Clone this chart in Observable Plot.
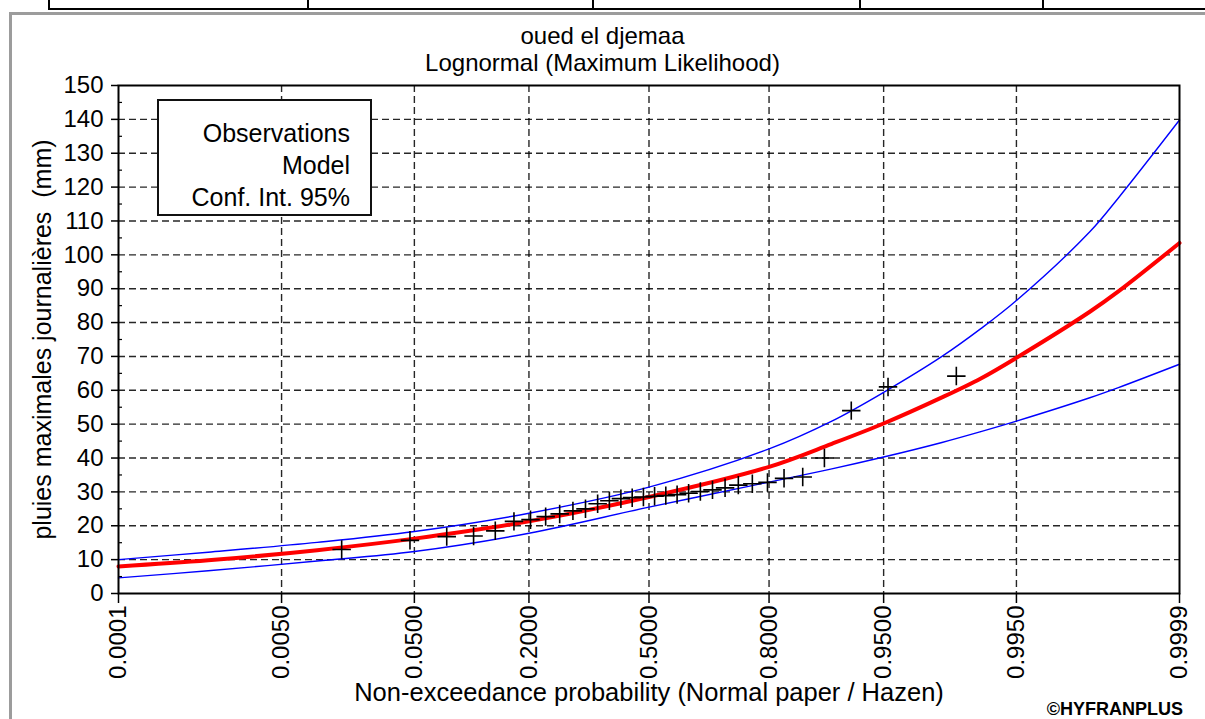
<!DOCTYPE html>
<html>
<head>
<meta charset="utf-8">
<script src="https://cdn.jsdelivr.net/npm/d3@7"></script>
<script src="https://cdn.jsdelivr.net/npm/@observablehq/plot@0.6"></script>
<style>
  html, body { margin: 0; padding: 0; background: #fff; }
  #page { position: relative; width: 1205px; height: 719px; overflow: hidden; font-family: "Liberation Sans", Arial, sans-serif; color: #000; }
  #chart { position: absolute; left: 0; top: 0; }
  .deco { position: absolute; z-index: 3; }
  #title { position: absolute; z-index: 3; left: 0; top: 22px; width: 1205px; text-align: center; font-size: 24px; line-height: 27px; }
  #legend { position: absolute; z-index: 3; left: 157px; top: 99px; width: 215px; height: 117px; box-sizing: border-box; border: 2px solid #111; background: #fff; text-align: right; padding: 16px 20px 0 0; font-size: 25px; line-height: 32px; }
  #copy { position: absolute; z-index: 3; right: 22px; top: 699px; font-size: 18px; line-height: 20px; font-weight: bold; }
</style>
</head>
<body>
<div id="page">
  <div id="chart"></div>
  <div class="deco" style="left:48px;top:0;width:1157px;height:8px;border-left:2px solid #000;border-bottom:2px solid #000;"></div>
  <div class="deco" style="left:307px;top:0;width:2px;height:9px;background:#000;"></div>
  <div class="deco" style="left:592px;top:0;width:2px;height:9px;background:#000;"></div>
  <div class="deco" style="left:859px;top:0;width:2px;height:9px;background:#000;"></div>
  <div class="deco" style="left:1042px;top:0;width:2px;height:9px;background:#000;"></div>
  <div class="deco" style="left:9px;top:12px;width:1196px;height:707px;box-sizing:border-box;border-left:3px solid #9c9c9c;border-top:3px solid #9c9c9c;"></div>
  <div id="title">oued el djemaa<br>Lognormal (Maximum Likelihood)</div>
  <div id="legend">Observations<br>Model<br>Conf. Int. 95%</div>
  <div id="copy">©HYFRANPLUS</div>
</div>
<script>
// ---- data ----
const tickProbs  = [0.0001, 0.005, 0.05, 0.2, 0.5, 0.8, 0.95, 0.995, 0.9999];
const tickLabels = ["0.0001", "0.0050", "0.0500", "0.2000", "0.5000", "0.8000", "0.9500", "0.9950", "0.9999"];
const yTicks = [0, 10, 20, 30, 40, 50, 60, 70, 80, 90, 100, 110, 120, 130, 140, 150];
const yMinor = [5, 15, 25, 35, 45, 55, 65, 75, 85, 95, 105, 115, 125, 135, 145];
const yGrid  = [10, 20, 30, 40, 50, 60, 70, 80, 90, 100, 110, 120, 130, 140];

// model curve and 95% confidence bounds (mm) at these probabilities
const curveProbs = [0.0001, 0.001, 0.01, 0.05, 0.2, 0.5, 0.8, 0.9, 0.95, 0.98, 0.99, 0.995, 0.999, 0.9995, 0.9999];
const modelVals  = [8.0, 9.8, 12.8, 16.2, 21.3, 28.5, 37.4, 44.2, 50.2, 57.9, 63.5, 69.6, 83.2, 89.2, 103.5];
const upperVals  = [10.0, 12.2, 15.1, 18.3, 23.7, 31.4, 42.7, 50.9, 59.4, 70.0, 78.2, 86.5, 106.8, 116.8, 139.8];
const lowerVals  = [4.6, 6.7, 9.6, 12.4, 17.8, 25.5, 32.9, 36.8, 40.3, 44.6, 47.8, 50.9, 57.8, 60.8, 67.7];

// observations (Hazen plotting positions) and values (mm)
const obsProbs = [0.0156, 0.0469, 0.0781, 0.1094, 0.1406, 0.1719, 0.2031, 0.2344, 0.2656, 0.2969, 0.3281, 0.3594,
                  0.3906, 0.4219, 0.4531, 0.4844, 0.5156, 0.5469, 0.5781, 0.6094, 0.6406, 0.6719, 0.7031, 0.7344,
                  0.7656, 0.7969, 0.8281, 0.8594, 0.8906, 0.9219, 0.9531, 0.9844];
const obsVals  = [13.0, 15.7, 16.8, 17.0, 18.5, 21.3, 21.8, 22.7, 23.5, 24.4, 25.0, 26.5,
                  27.4, 28.0, 28.3, 28.5, 28.7, 28.9, 29.2, 29.6, 30.1, 30.6, 31.2, 32.0,
                  32.4, 32.8, 34.0, 34.4, 40.0, 54.0, 61.0, 64.2];

const xLabel = "Non-exceedance probability (Normal paper / Hazen)";
const yLabel = "pluies maximales journalières\u00a0 (mm)";

// inverse standard normal CDF (normal probability paper)
function probit(p) {
  const a = [-3.969683028665376e+01, 2.209460984245205e+02, -2.759285104469687e+02, 1.383577518672690e+02, -3.066479806614716e+01, 2.506628277459239e+00];
  const b = [-5.447609879822406e+01, 1.615858368580409e+02, -1.556989798598866e+02, 6.680131188771972e+01, -1.328068155288572e+01];
  const c = [-7.784894002430293e-03, -3.223964580411365e-01, -2.400758277161838e+00, -2.549732539343734e+00, 4.374664141464968e+00, 2.938163982698783e+00];
  const d = [7.784695709041462e-03, 3.224671290700398e-01, 2.445134137142996e+00, 3.754408661907416e+00];
  const pl = 0.02425;
  if (p < pl) {
    const q = Math.sqrt(-2 * Math.log(p));
    return (((((c[0]*q+c[1])*q+c[2])*q+c[3])*q+c[4])*q+c[5]) / ((((d[0]*q+d[1])*q+d[2])*q+d[3])*q+1);
  }
  if (p > 1 - pl) {
    const q = Math.sqrt(-2 * Math.log(1 - p));
    return -(((((c[0]*q+c[1])*q+c[2])*q+c[3])*q+c[4])*q+c[5]) / ((((d[0]*q+d[1])*q+d[2])*q+d[3])*q+1);
  }
  const q = p - 0.5, r = q * q;
  return (((((a[0]*r+a[1])*r+a[2])*r+a[3])*r+a[4])*r+a[5])*q / (((((b[0]*r+b[1])*r+b[2])*r+b[3])*r+b[4])*r+1);
}

const zTicks = tickProbs.map(probit);
const labelMap = new Map(zTicks.map((z, i) => [z, tickLabels[i]]));
const innerZ = zTicks.slice(1, -1);
const curveRows = curveProbs.map((p, i) => ({z: probit(p), model: modelVals[i], upper: upperVals[i], lower: lowerVals[i]}));
const obsRows = obsProbs.map((p, i) => ({z: probit(p), v: obsVals[i]}));

const gridStyle = {stroke: "#000", strokeOpacity: 0.85, strokeWidth: 1.4, strokeDasharray: "7,4"};

const chart = Plot.plot({
  width: 1205,
  height: 719,
  marginLeft: 118,
  marginRight: 26,
  marginTop: 85,
  marginBottom: 126,
  style: {background: "transparent", fontFamily: "'Liberation Sans', Arial, sans-serif", color: "#000"},
  x: {domain: [zTicks[0], zTicks[zTicks.length - 1]]},
  y: {domain: [0, 150]},
  marks: [
    Plot.gridX(innerZ, gridStyle),
    Plot.gridY(yGrid, gridStyle),
    Plot.line(curveRows, {x: "z", y: "upper", stroke: "#0000ff", strokeWidth: 1.4, curve: "catmull-rom"}),
    Plot.line(curveRows, {x: "z", y: "lower", stroke: "#0000ff", strokeWidth: 1.4, curve: "catmull-rom"}),
    Plot.line(curveRows, {x: "z", y: "model", stroke: "#ff0000", strokeWidth: 4, curve: "catmull-rom"}),
    Plot.dot(obsRows, {x: "z", y: "v", symbol: "plus", r: 6, stroke: "#000", strokeWidth: 1.6}),
    Plot.frame({stroke: "#000", strokeWidth: 2}),
    Plot.axisY(yTicks, {tickSize: 7, tickPadding: 8, fontSize: 24, label: null, strokeWidth: 1.5}),
    Plot.axisY(yMinor, {tickSize: 4, text: null, dx: 4, strokeWidth: 1.2}),
    Plot.axisX(zTicks, {tickSize: 10, tickPadding: 2, tickRotate: -90, fontSize: 24, label: null, strokeWidth: 1.5,
                        tickFormat: (z) => labelMap.get(z)}),
    Plot.text([xLabel], {text: (d) => d, frameAnchor: "bottom", dy: 107, fontSize: 25.5}),
    Plot.text([yLabel], {text: (d) => d, frameAnchor: "left", textAnchor: "middle", dx: -76, rotate: -90, fontSize: 25})
  ]
});
document.getElementById("chart").appendChild(chart);
</script>
</body>
</html>
